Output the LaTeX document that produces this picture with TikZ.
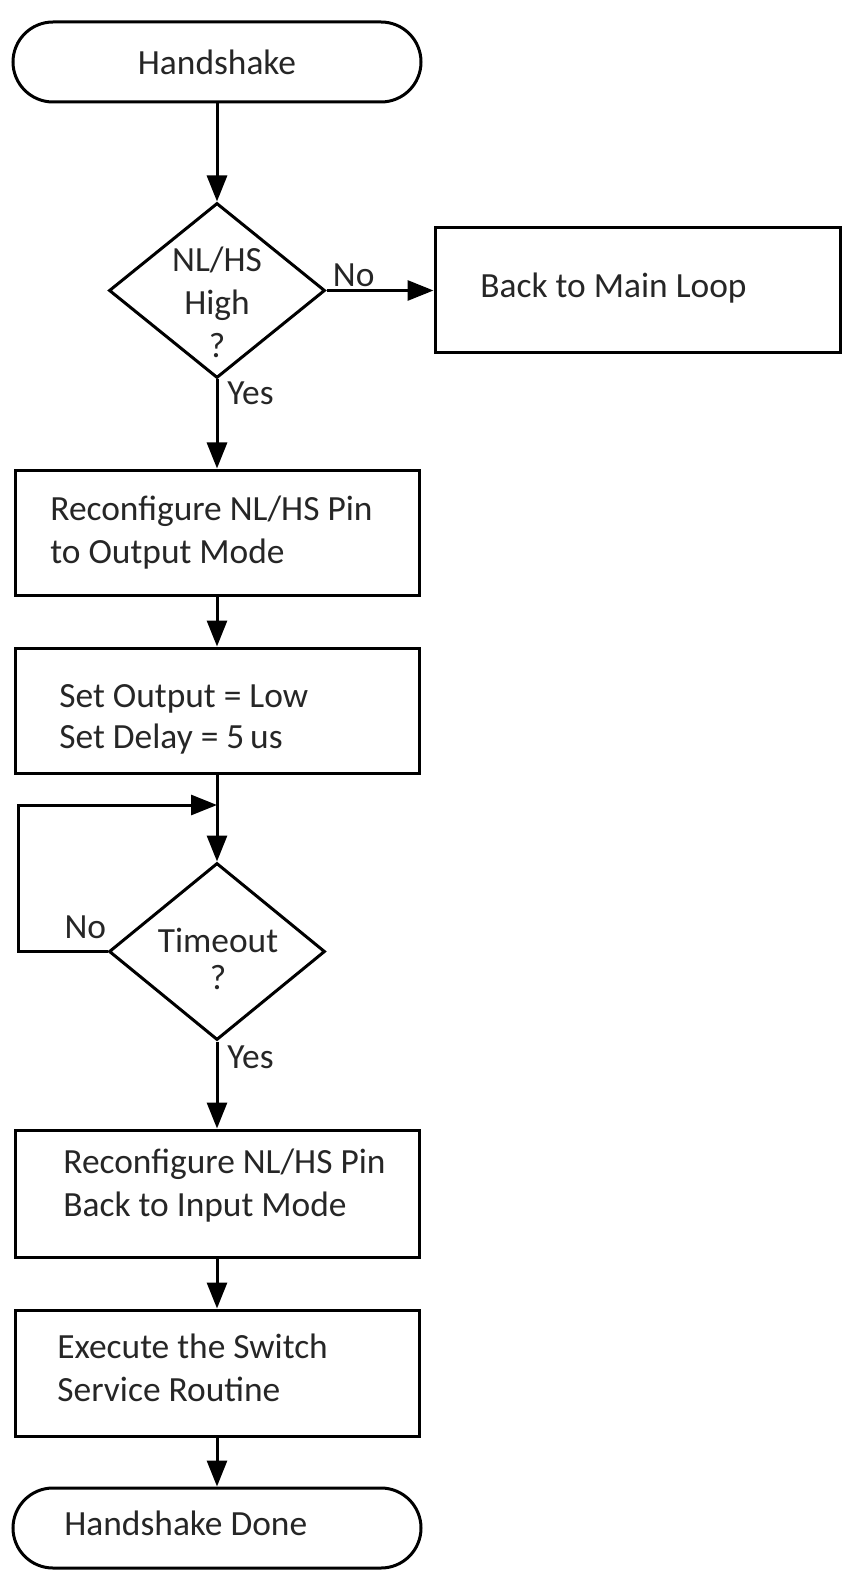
\documentclass[tikz,border=0pt]{standalone}
\usepackage{fontspec}
\setmainfont{Carlito}
\usetikzlibrary{shapes.geometric,arrows.meta}
\begin{document}
\begin{tikzpicture}[x=0.5pt,y=-0.5pt,
  every node/.style={font=\fontsize{17.7}{21.5}\selectfont, text=black!85},
  shp/.style={draw=black, line width=1.5pt},
  term/.style={shp, rectangle, rounded corners=20pt, minimum width=204pt, minimum height=40pt, inner sep=0pt},
  proc/.style={shp, rectangle, minimum width=202pt, minimum height=62.5pt, inner sep=0pt},
  dec/.style={shp, diamond, minimum width=108pt, minimum height=87.5pt, inner sep=0pt},
  txt/.style={inner sep=0pt},
  lbl/.style={inner sep=0pt},
  arr/.style={line width=1.5pt, -{Triangle[length=13pt,width=10pt]}}]
\useasboundingbox (0,0) rectangle (844,1572);

\node[term] (t1) at (217,62) {Handshake};

\node[dec] (d1) at (217,290.5) {};
\node[txt, anchor=base] (d1t) at (217,272) {\begin{tabular}[t]{@{}c@{}}NL/HS\\High\\?\end{tabular}};

\node[proc, minimum width=202.5pt] (b1) at (637.5,290.5) {};
\node[txt, anchor=base west] (b1t) at (480,298) {Back to Main Loop};

\node[proc] (b2) at (217,532.5) {};
\node[txt, anchor=base west] (b2t) at (50,520) {\begin{tabular}[t]{@{}l@{}}Reconfigure NL/HS Pin\\to Output Mode\end{tabular}};

\node[proc] (b3) at (217,710.5) {};
\node[txt, anchor=base west] (b3t) at (59,707) {\begin{tabular}[t]{@{}l@{}}Set Output = Low\\[-1pt]Set Delay = 5\,us\end{tabular}};

\node[dec, minimum height=88.5pt] (d2) at (217,951.5) {};
\node[txt, anchor=base] (d2t) at (218,952) {\begin{tabular}[t]{@{}c@{}}Timeout\\[-3pt]?\end{tabular}};

\node[proc, minimum height=63.5pt] (b4) at (217,1193.5) {};
\node[txt, anchor=base west] (b4t) at (63,1173) {\begin{tabular}[t]{@{}l@{}}Reconfigure NL/HS Pin\\Back to Input Mode\end{tabular}};

\node[proc, minimum height=63pt] (b5) at (217,1373) {};
\node[txt, anchor=base west] (b5t) at (57,1358) {\begin{tabular}[t]{@{}l@{}}Execute the Switch\\Service Routine\end{tabular}};

\node[term] (t2) at (217,1528) {};
\node[txt, anchor=base west] (t2t) at (64,1535) {Handshake Done};

% labels
\node[lbl, anchor=base west] (no1) at ([xshift=3pt,yshift=1.75pt]d1.east) {No};
\node[lbl, anchor=base west] (yes1) at ([xshift=5pt,yshift=-12.5pt]d1.south) {Yes};
\node[lbl, anchor=base east] (no2) at ([xshift=-0.5pt,yshift=6.75pt]d2.west) {No};
\node[lbl, anchor=base west] (yes2) at ([xshift=5pt,yshift=-13.5pt]d2.south) {Yes};

% connectors
\coordinate (lc) at (18,805);
\coordinate (lj) at (217,805);
\draw[arr] (t1.south) -- (d1.north);
\draw[arr] (d1.east) -- (b1.west);
\draw[arr] (d1.south) -- (b2.north);
\draw[arr] (b2.south) -- (b3.north);
\draw[arr] (b3.south) -- (d2.north);
\draw[arr] (d2.west) -| (lc) -- (lj);
\draw[arr] (d2.south) -- (b4.north);
\draw[arr] (b4.south) -- (b5.north);
\draw[arr] (b5.south) -- (t2.north);
\end{tikzpicture}
\end{document}
